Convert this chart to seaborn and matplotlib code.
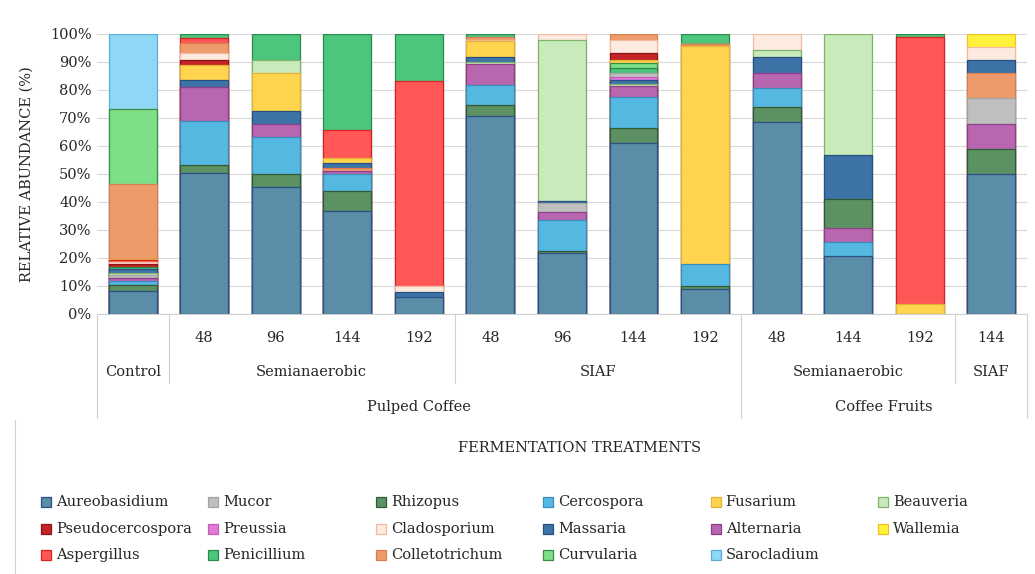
import pandas as pd
import matplotlib.pyplot as plt
import matplotlib.colors as mcolors
from matplotlib.patches import Rectangle
from matplotlib.lines import Line2D
from matplotlib.transforms import blended_transform_factory
import seaborn as sns

# Fermentation hours shown under each bar (Control has none)
hours = ['', '48', '96', '144', '192', '48', '96', '144', '192', '48', '144', '192', '144']
bar_ids = [f'b{i}' for i in range(len(hours))]

# Second / third level of the category axis: (label, first bar, last bar)
methods = [('Control', 0, 0), ('Semianaerobic', 1, 4), ('SIAF', 5, 8),
           ('Semianaerobic', 9, 11), ('SIAF', 12, 12)]
substrates = [('Pulped Coffee', 0, 8), ('Coffee Fruits', 9, 12)]

genus_order = ['Aureobasidium', 'Mucor', 'Rhizopus', 'Cercospora', 'Fusarium', 'Beauveria',
               'Pseudocercospora', 'Preussia', 'Cladosporium', 'Massaria', 'Alternaria', 'Wallemia',
               'Aspergillus', 'Penicillium', 'Colletotrichum', 'Curvularia', 'Sarocladium']

fill_colors = {
    'Aureobasidium': '#5a8da7', 'Mucor': '#bfbfbf', 'Rhizopus': '#5c9163',
    'Cercospora': '#55b8e0', 'Fusarium': '#ffd44f', 'Beauveria': '#c9eabb',
    'Pseudocercospora': '#c42327', 'Preussia': '#e07ad6', 'Cladosporium': '#fdebe2',
    'Massaria': '#3e73a8', 'Alternaria': '#b966b1', 'Wallemia': '#fff23d',
    'Aspergillus': '#ff5757', 'Penicillium': '#4cc57d', 'Colletotrichum': '#ee9b6c',
    'Curvularia': '#7ddf88', 'Sarocladium': '#8ed7f5',
}
edge_colors = {
    'Aureobasidium': '#2f4e88', 'Mucor': '#a3a3a3', 'Rhizopus': '#2f5a34',
    'Cercospora': '#3a8cbc', 'Fusarium': '#e2b233', 'Beauveria': '#80b26c',
    'Pseudocercospora': '#8c1414', 'Preussia': '#c45cba', 'Cladosporium': '#f5b9a0',
    'Massaria': '#294f82', 'Alternaria': '#8e3e88', 'Wallemia': '#f0c020',
    'Aspergillus': '#d82222', 'Penicillium': '#2a8a4c', 'Colletotrichum': '#d97e4f',
    'Curvularia': '#3b8c46', 'Sarocladium': '#5aaed8',
}

# Relative abundance (%) per treatment, listed from the bottom of the stack up
control = [('Aureobasidium', 8.3), ('Rhizopus', 2.1), ('Cercospora', 1.2), ('Preussia', 0.5),
           ('Alternaria', 0.7), ('Mucor', 1.0), ('Beauveria', 0.8), ('Massaria', 1.4),
           ('Penicillium', 0.8), ('Pseudocercospora', 1.0), ('Cladosporium', 0.8),
           ('Aspergillus', 0.5), ('Fusarium', 0.4), ('Colletotrichum', 26.9),
           ('Curvularia', 26.7), ('Sarocladium', 26.9)]
pc_semi_48 = [('Aureobasidium', 50.5), ('Rhizopus', 2.7), ('Cercospora', 15.8), ('Alternaria', 12.0),
              ('Massaria', 2.6), ('Fusarium', 5.3), ('Pseudocercospora', 1.6), ('Cladosporium', 2.6),
              ('Colletotrichum', 3.8), ('Aspergillus', 1.6), ('Penicillium', 1.5)]
pc_semi_96 = [('Aureobasidium', 45.2), ('Rhizopus', 4.7), ('Cercospora', 13.4), ('Alternaria', 4.6),
              ('Massaria', 4.6), ('Fusarium', 13.5), ('Beauveria', 4.7), ('Penicillium', 9.3)]
pc_semi_144 = [('Aureobasidium', 36.9), ('Rhizopus', 7.1), ('Cercospora', 5.9), ('Alternaria', 1.3),
               ('Colletotrichum', 0.8), ('Massaria', 1.8), ('Fusarium', 1.8), ('Aspergillus', 10.1),
               ('Penicillium', 34.3)]
pc_semi_192 = [('Aureobasidium', 6.2), ('Massaria', 1.8), ('Cladosporium', 2.1), ('Aspergillus', 73.1),
               ('Penicillium', 16.8)]
pc_siaf_48 = [('Aureobasidium', 70.5), ('Rhizopus', 4.1), ('Cercospora', 7.2), ('Alternaria', 7.5),
              ('Beauveria', 0.8), ('Massaria', 1.6), ('Fusarium', 5.6), ('Cladosporium', 0.6),
              ('Colletotrichum', 1.1), ('Penicillium', 1.0)]
pc_siaf_96 = [('Aureobasidium', 21.7), ('Rhizopus', 0.9), ('Cercospora', 11.0), ('Alternaria', 2.9),
              ('Mucor', 3.0), ('Massaria', 1.0), ('Beauveria', 57.4), ('Cladosporium', 2.1)]
pc_siaf_144 = [('Aureobasidium', 61.0), ('Rhizopus', 5.3), ('Cercospora', 11.1), ('Alternaria', 4.0),
               ('Beauveria', 0.8), ('Massaria', 1.5), ('Preussia', 0.8), ('Mucor', 1.5),
               ('Penicillium', 1.7), ('Curvularia', 1.8), ('Fusarium', 1.0),
               ('Pseudocercospora', 2.6), ('Cladosporium', 4.8), ('Colletotrichum', 2.1)]
pc_siaf_192 = [('Aureobasidium', 8.8), ('Rhizopus', 1.2), ('Cercospora', 7.7), ('Fusarium', 77.8),
               ('Colletotrichum', 0.8), ('Beauveria', 0.6), ('Penicillium', 3.1)]
cf_semi_48 = [('Aureobasidium', 68.7), ('Rhizopus', 5.3), ('Cercospora', 6.6), ('Alternaria', 5.6),
              ('Massaria', 5.7), ('Beauveria', 2.4), ('Cladosporium', 5.7)]
cf_semi_144 = [('Aureobasidium', 20.7), ('Cercospora', 5.1), ('Alternaria', 5.0), ('Rhizopus', 10.3),
               ('Massaria', 15.7), ('Beauveria', 43.2)]
cf_semi_192 = [('Fusarium', 3.6), ('Aspergillus', 95.2), ('Penicillium', 1.2)]
cf_siaf_144 = [('Aureobasidium', 49.9), ('Rhizopus', 8.9), ('Alternaria', 9.1), ('Mucor', 9.1),
               ('Colletotrichum', 9.2), ('Massaria', 4.5), ('Cladosporium', 4.5), ('Wallemia', 4.8)]

stacks = [control, pc_semi_48, pc_semi_96, pc_semi_144, pc_semi_192,
          pc_siaf_48, pc_siaf_96, pc_siaf_144, pc_siaf_192,
          cf_semi_48, cf_semi_144, cf_semi_192, cf_siaf_144]

# Long table with the cumulative top of every segment
rows = []
for bar, stack in zip(bar_ids, stacks):
    top = 0.0
    for layer, (genus, value) in enumerate(stack):
        top += value
        rows.append({'bar': bar, 'genus': genus, 'value': value, 'top': top, 'layer': layer})
df = pd.DataFrame(rows)

sns.set_theme(style='white')
plt.rcParams['font.family'] = ['DejaVu Serif']
text_color = '#262626'
line_color = '#d0d0d0'

fig = plt.figure(figsize=(10.35, 5.74), dpi=100)
ax = fig.add_axes([0.0937, 0.453, 0.8985, 0.488])

# Stacked bars: draw cumulative tops from the highest layer down
for layer in sorted(df['layer'].unique(), reverse=True):
    d = df[df['layer'] == layer]
    sns.barplot(data=d, x='bar', y='top', hue='genus', order=bar_ids, hue_order=genus_order,
                palette=fill_colors, dodge=False, width=0.67, saturation=1, errorbar=None,
                legend=False, linewidth=0.9, ax=ax)

edge_lookup = {mcolors.to_hex(fill_colors[g]): edge_colors[g] for g in genus_order}
for p in ax.patches:
    p.set_edgecolor(edge_lookup.get(mcolors.to_hex(p.get_facecolor()), 'none'))

ax.set_xlim(-0.5, len(bar_ids) - 0.5)
ax.set_ylim(0, 100)
ax.set_yticks(range(0, 101, 10))
ax.set_yticklabels([f'{v}%' for v in range(0, 101, 10)], fontsize=10.5, color=text_color)
ax.set_xticks([])
ax.set_xlabel('')
ax.set_ylabel('')
ax.tick_params(axis='y', length=0, pad=4)
ax.yaxis.grid(True, color='#d9d9d9', linewidth=0.8)
ax.set_axisbelow(True)
for side in ['top', 'right', 'left']:
    ax.spines[side].set_visible(False)
ax.spines['bottom'].set_color(line_color)
ax.spines['bottom'].set_linewidth(0.8)

# Multi-level category axis
trans = blended_transform_factory(ax.transData, ax.transAxes)
for i, h in enumerate(hours):
    ax.text(i, -0.086, h, transform=trans, ha='center', va='center', fontsize=10.5, color=text_color)
for label, a, b in methods:
    ax.text((a + b) / 2, -0.207, label, transform=trans, ha='center', va='center',
            fontsize=10.5, color=text_color)
for label, a, b in substrates:
    ax.text((a + b) / 2, -0.332, label, transform=trans, ha='center', va='center',
            fontsize=10.5, color=text_color)

short_edges = [0.5, 4.5, 11.5]
long_edges = [-0.5, 8.5, 12.5]
for x in short_edges:
    ax.add_line(Line2D([x, x], [0, -0.246], transform=trans, color=line_color, lw=0.8, clip_on=False))
for x in long_edges:
    ax.add_line(Line2D([x, x], [0, -0.371], transform=trans, color=line_color, lw=0.8, clip_on=False))

fig.text(0.560, 0.2195, 'FERMENTATION TREATMENTS', ha='center', va='center',
         fontsize=10.5, color=text_color)
fig.text(0.026, 0.697, 'RELATIVE ABUNDANCE (%)', rotation=90, ha='center', va='center',
         fontsize=10.5, color=text_color)

# Legend laid out row by row on a fixed grid
W, H = 1035.0, 574.0
for i, genus in enumerate(genus_order):
    r, c = divmod(i, 6)
    x0 = 41 + c * 167.4
    yc = 502 + r * 26.7
    fig.add_artist(Rectangle((x0 / W, 1 - (yc + 5) / H), 10 / W, 10 / H,
                             facecolor=fill_colors[genus], edgecolor=edge_colors[genus],
                             linewidth=0.9, transform=fig.transFigure))
    fig.text((x0 + 15) / W, 1 - yc / H, genus, ha='left', va='center',
             fontsize=10.5, color=text_color)

# Chart-area border visible at the lower left
fig.add_artist(Line2D([15 / W, 15 / W], [0, 1 - 420 / H], transform=fig.transFigure,
                      color=line_color, lw=0.8))

fig.savefig('out.png', dpi=100)
